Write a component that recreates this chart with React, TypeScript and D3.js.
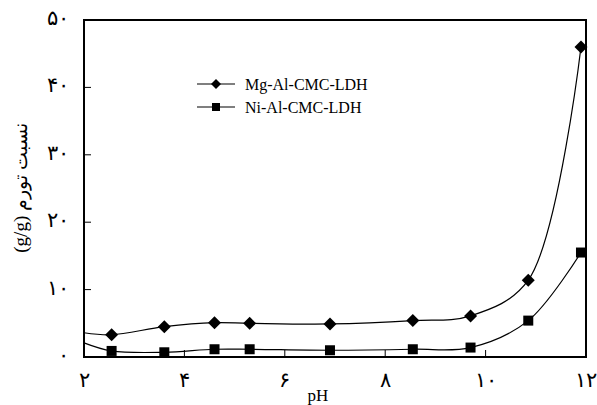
import React from 'react';
import * as d3 from 'd3';

// measured pH values and swelling ratio (g/g)
const phValues = [2.55, 3.6, 4.6, 5.3, 6.9, 8.55, 9.7, 10.85, 11.9];
const mgValues = [3.3, 4.5, 5.1, 5.0, 4.9, 5.4, 6.1, 11.4, 46.0];
const niValues = [0.9, 0.7, 1.15, 1.15, 1.0, 1.15, 1.4, 5.4, 15.5];
// curves start at the left edge of the frame
const curveStartPh = 2;
const mgStart = 3.6;
const niStart = 2.1;

const xTicks = [2, 4, 6, 8, 10, 12];
const yTicks = [0, 10, 20, 30, 40, 50];
const seriesNames = ['Mg-Al-CMC-LDH', 'Ni-Al-CMC-LDH'];
const yTitle = 'نسبت تورم (g/g)';
const xTitle = 'pH';

const W = 597, H = 405;
const margin = { left: 84, right: 11, top: 20, bottom: 48 };

const toPersian = (n: number) =>
    String(n).replace(/[0-9]/g, d => String.fromCharCode(0x06f0 + Number(d)));

export default function App() {
    const x = d3.scaleLinear().domain([2, 12]).range([margin.left, W - margin.right]);
    const y = d3.scaleLinear().domain([0, 50]).range([H - margin.bottom, margin.top]);

    const line = d3.line<[number, number]>()
        .x(d => x(d[0]))
        .y(d => y(d[1]))
        .curve(d3.curveCatmullRom.alpha(0.5));

    const mgPts: [number, number][] = [[curveStartPh, mgStart], ...phValues.map((p, i) => [p, mgValues[i]] as [number, number])];
    const niPts: [number, number][] = [[curveStartPh, niStart], ...phValues.map((p, i) => [p, niValues[i]] as [number, number])];

    const diamond = (cx: number, cy: number, r: number) =>
        `M${cx},${cy - r}L${cx + r},${cy}L${cx},${cy + r}L${cx - r},${cy}Z`;

    const font = "'Liberation Serif', 'Times New Roman', serif";
    const x0 = margin.left, x1 = W - margin.right;
    const y0 = H - margin.bottom, y1 = margin.top;

    return (
        <svg width={W} height={H} style={{ position: 'absolute', left: 0, top: 0, background: '#fff' }}>
            {/* curves */}
            <path d={line(mgPts) || ''} fill="none" stroke="#000" strokeWidth={1.2} />
            <path d={line(niPts) || ''} fill="none" stroke="#000" strokeWidth={1.2} />

            {/* ticks, inward */}
            {xTicks.slice(1, -1).map(t => (
                <line key={'xt' + t} x1={x(t)} x2={x(t)} y1={y0} y2={y0 - 7} stroke="#000" strokeWidth={1} />
            ))}
            {yTicks.slice(1, -1).map(t => (
                <line key={'yt' + t} x1={x0} x2={x0 + 7} y1={y(t)} y2={y(t)} stroke="#000" strokeWidth={1} />
            ))}

            {/* markers */}
            {phValues.map((p, i) => (
                <path key={'mg' + i} d={diamond(x(p), y(mgValues[i]), 6.5)} fill="#000" />
            ))}
            {phValues.map((p, i) => (
                <rect key={'ni' + i} x={x(p) - 5} y={y(niValues[i]) - 5} width={10} height={10} fill="#000" />
            ))}

            {/* frame */}
            <rect x={x0} y={y1} width={x1 - x0} height={y0 - y1} fill="none" stroke="#000" strokeWidth={2} />

            {/* tick labels */}
            {xTicks.map(t => (
                <text key={'xl' + t} x={x(t)} y={y0 + 30} textAnchor="middle" fontFamily={font} fontSize={21} fontWeight={300}>
                    {toPersian(t)}
                </text>
            ))}
            {yTicks.map(t => (
                <text key={'yl' + t} x={x0 - 15} y={y(t) + 5} textAnchor="end" fontFamily={font} fontSize={21} fontWeight={300}>
                    {toPersian(t)}
                </text>
            ))}

            {/* axis titles */}
            <text x={318} y={H - 4} textAnchor="middle" fontFamily={font} fontSize={17}>{xTitle}</text>
            <text transform={`translate(27,188) rotate(-90)`} textAnchor="middle"
                fontFamily={font} fontSize={19} direction="rtl" style={{ unicodeBidi: 'embed' }}>
                {yTitle}
            </text>

            {/* legend */}
            <g transform="translate(197,84)">
                <line x1={0} x2={38} y1={0} y2={0} stroke="#000" strokeWidth={1.2} />
                <path d={diamond(19, 0, 5)} fill="#000" />
                <text x={48} y={5.5} fontFamily={font} fontSize={16}>{seriesNames[0]}</text>
            </g>
            <g transform="translate(197,107)">
                <line x1={0} x2={38} y1={0} y2={0} stroke="#000" strokeWidth={1.2} />
                <rect x={15} y={-4} width={8} height={8} fill="#000" />
                <text x={48} y={5.5} fontFamily={font} fontSize={16}>{seriesNames[1]}</text>
            </g>
        </svg>
    );
}
